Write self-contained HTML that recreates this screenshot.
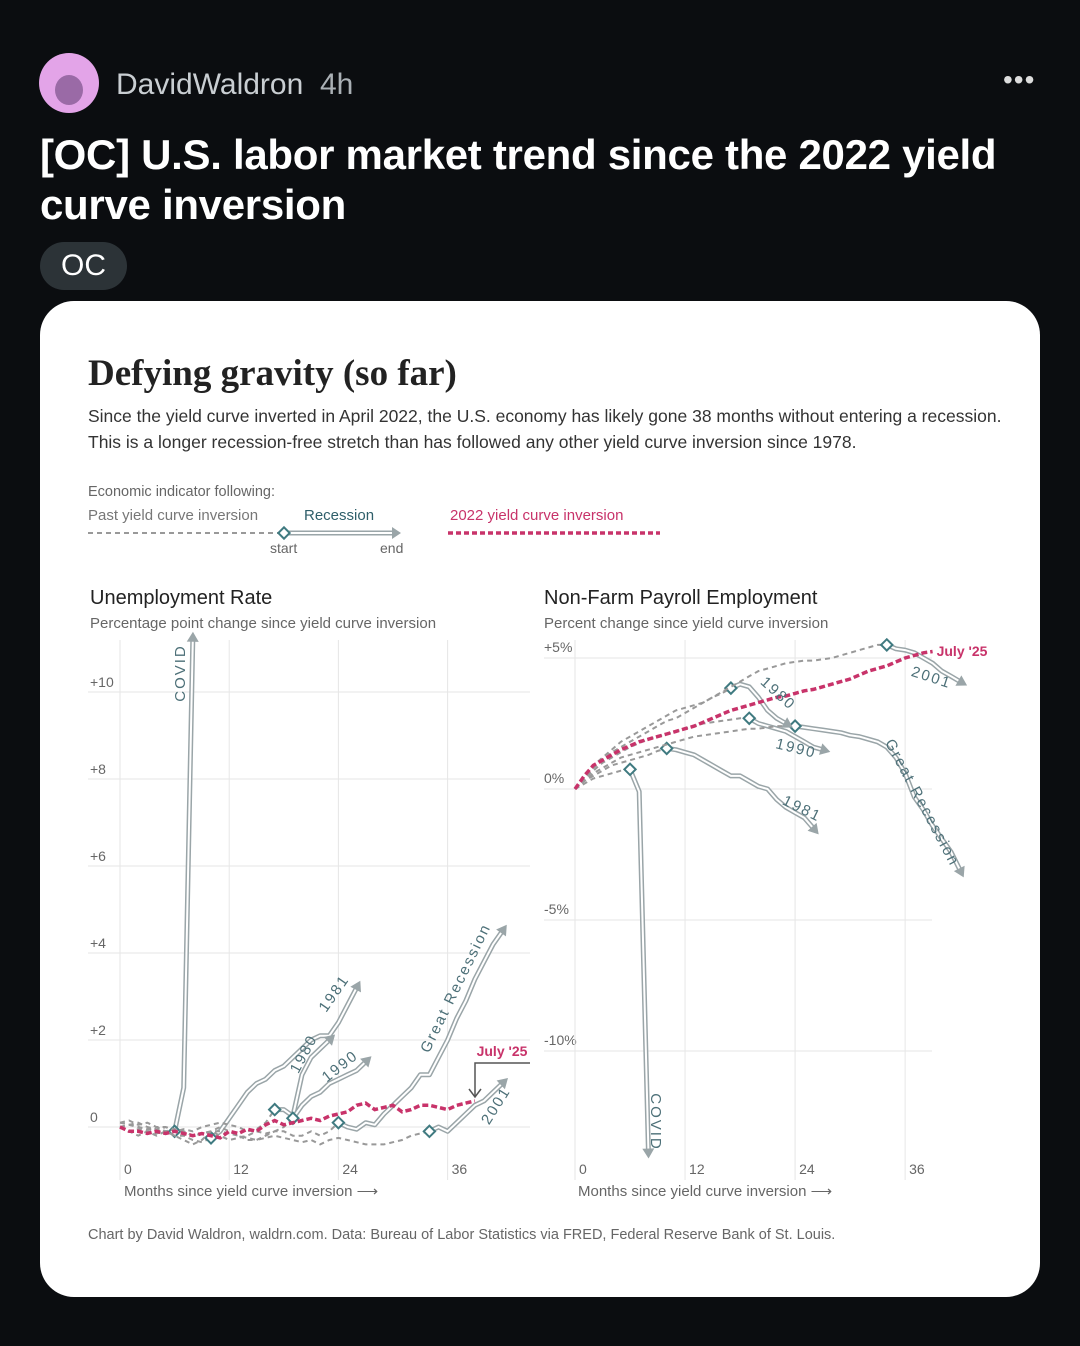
<!DOCTYPE html>
<html><head><meta charset="utf-8">
<style>
body{margin:0;width:1080px;height:1346px;background:#0b0d10;position:relative;overflow:hidden;font-family:"Liberation Sans",sans-serif;}
.a{position:absolute;white-space:nowrap;}
.card{position:absolute;left:40px;top:301px;width:1000px;height:996px;background:#fff;border-radius:34px;}
.g{color:#666;}
</style></head><body>
<div class="a" style="left:39px;top:53px;width:60px;height:60px;border-radius:50%;background:#e3a4e8;"><div style="position:absolute;left:16px;top:22px;width:28px;height:30px;border-radius:50%;background:#9a6aa6;"></div></div>
<div class="a" style="left:116px;top:68px;font-size:30px;color:#c9ced2;">DavidWaldron&nbsp; <span style="color:#aab0b5">4h</span></div>
<div class="a" style="left:1003px;top:64px;font-size:28px;color:#ddd;letter-spacing:1px;">•••</div>
<div class="a" style="left:40px;top:130px;font-size:42px;letter-spacing:-0.3px;line-height:50px;color:#fff;font-weight:bold;white-space:normal;width:1010px;">[OC] U.S. labor market trend since the 2022 yield curve inversion</div>
<div class="a" style="left:40px;top:242px;width:87px;height:48px;border-radius:24px;background:#2c3337;color:#fff;font-size:30px;line-height:48px;text-align:center;">OC</div>
<div class="card"></div>
<div class="a" style="left:88px;top:352px;font-family:'Liberation Serif',serif;font-weight:bold;font-size:37px;color:#222;">Defying gravity (so far)</div>
<div class="a" style="left:88px;top:403px;font-size:17.5px;line-height:26px;color:#333;">Since the yield curve inverted in April 2022, the U.S. economy has likely gone 38 months without entering a recession.<br>This is a longer recession-free stretch than has followed any other yield curve inversion since 1978.</div>
<div class="a g" style="left:88px;top:484px;font-size:14.5px;">Economic indicator following:</div>
<div class="a" style="left:88px;top:507px;font-size:15px;color:#777;">Past yield curve inversion</div>
<div class="a" style="left:304px;top:507px;font-size:15px;color:#2f5f6a;">Recession</div>
<div class="a" style="left:450px;top:507px;font-size:15px;color:#c8336a;">2022 yield curve inversion</div>
<div class="a g" style="left:270px;top:540px;font-size:14px;">start</div>
<div class="a g" style="left:380px;top:540px;font-size:14px;">end</div>
<div class="a" style="left:90px;top:587px;font-size:20px;color:#222;">Unemployment Rate</div>
<div class="a g" style="left:90px;top:615px;font-size:15px;">Percentage point change since yield curve inversion</div>
<div class="a" style="left:544px;top:587px;font-size:20px;color:#222;">Non-Farm Payroll Employment</div>
<div class="a g" style="left:544px;top:615px;font-size:15px;">Percent change since yield curve inversion</div>
<div class="a g" style="left:124px;top:1182px;font-size:15px;">Months since yield curve inversion ⟶</div>
<div class="a g" style="left:578px;top:1182px;font-size:15px;">Months since yield curve inversion ⟶</div>
<div class="a g" style="left:88px;top:1227px;font-size:14.5px;">Chart by David Waldron, waldrn.com. Data: Bureau of Labor Statistics via FRED, Federal Reserve Bank of St. Louis.</div>

<svg id="sv" class="a" style="left:0;top:0" width="1080" height="1346">
<line x1="88" y1="533" x2="280" y2="533" stroke="#999" stroke-width="2" stroke-dasharray="5,4"/>
<line x1="288" y1="533" x2="392" y2="533" stroke="#9aa5a8" stroke-width="5"/>
<line x1="288" y1="533" x2="392" y2="533" stroke="#fff" stroke-width="2"/>
<polygon points="392,527 401,533 392,539" fill="#9aa5a8"/>
<rect x="280" y="529" width="8" height="8" transform="rotate(45 284 533)" fill="#fff" stroke="#3f7a80" stroke-width="2"/>
<line x1="448" y1="533" x2="660" y2="533" stroke="#c8336a" stroke-width="3.5" stroke-dasharray="5,3"/>
</svg>
<script>
const leftYTicks=[0,2,4,6,8,10];
const leftYLabels=["0","+2","+4","+6","+8","+10"];
const xTicks=[0,12,24,36];
const L_covid_pre=[0.1,0.05,0.1,0,-0.05,-0.1,-0.1];
const L_covid_post=[-0.1,0.9,11.2];
const L_1981_pre=[0,-0.1,-0.05,-0.1,-0.15,-0.1,-0.2,-0.2,-0.3,-0.35,-0.25];
const L_1981_post=[-0.25,-0.1,0.2,0.5,0.8,1.0,1.1,1.3,1.4,1.6,1.8,2.0,2.1,2.1,2.4,2.8,3.2];
const L_1980_pre=[0.1,0.15,0.05,0.1,0,0,-0.1,-0.05,-0.1,0,0.05,0.1,0.05,0,-0.1,-0.05,0.1,0.4];
const L_1980_post=[0.4,0.4,0.25,1.2,1.6,1.8,2.0];
const L_1990_pre=[0,0.05,0,-0.05,-0.1,0,-0.05,-0.1,-0.2,-0.15,-0.1,-0.2,-0.3,-0.25,-0.2,-0.1,-0.15,-0.1,0,0.2];
const L_1990_post=[0.2,0.5,0.7,0.8,1.0,1.1,1.2,1.3,1.5];
const L_gr_pre=[0,-0.1,-0.2,-0.1,-0.2,-0.1,-0.2,-0.3,-0.4,-0.3,-0.1,0,-0.1,-0.2,-0.3,-0.3,-0.2,-0.1,-0.1,-0.2,-0.2,-0.1,-0.2,-0.1,0.1];
const L_gr_post=[0.1,0,-0.05,0.1,0.05,0.3,0.5,0.7,0.9,1.2,1.2,1.6,2.0,2.5,2.9,3.4,3.8,4.2,4.5];
const L_2001_pre=[0,0.05,0,-0.05,0,-0.1,-0.05,-0.1,-0.2,-0.15,-0.1,-0.1,-0.15,-0.2,-0.25,-0.3,-0.25,-0.2,-0.25,-0.3,-0.35,-0.3,-0.4,-0.3,-0.25,-0.3,-0.35,-0.4,-0.4,-0.4,-0.35,-0.3,-0.2,-0.15,-0.1];
const L_2001_post=[-0.1,0,-0.1,0.1,0.3,0.5,0.6,0.8,1.0];
const L_2022=[0,-0.1,-0.1,-0.15,-0.1,-0.15,-0.1,-0.15,-0.2,-0.15,-0.2,-0.25,-0.1,-0.15,-0.05,-0.1,0.05,0.15,0.05,0.1,0.15,0.2,0.15,0.25,0.3,0.35,0.5,0.55,0.4,0.45,0.5,0.35,0.4,0.5,0.5,0.45,0.4,0.5,0.55,0.6];
const rightYTicks=[5,0,-5,-10];
const rightYLabels=["+5%","0%","-5%","-10%"];
const R_covid_pre=[0,0.2,0.4,0.5,0.6,0.7,0.75];
const R_covid_post=[0.75,-0.1,-13.8];
const R_1981_pre=[0,0.3,0.5,0.7,0.9,1.0,1.1,1.2,1.3,1.45,1.55];
const R_1981_post=[1.55,1.5,1.4,1.3,1.1,0.9,0.7,0.5,0.5,0.3,0.1,0,-0.4,-0.7,-0.9,-1.1,-1.5];
const R_1980_pre=[0,0.5,0.9,1.2,1.5,1.8,2.0,2.2,2.4,2.6,2.8,3.0,3.1,3.2,3.3,3.5,3.65,3.85];
const R_1980_post=[3.85,4.0,3.9,3.5,3.0,2.7,2.5];
const R_1990_pre=[0,0.4,0.7,1.0,1.2,1.4,1.6,1.75,1.9,2.0,2.1,2.2,2.3,2.4,2.5,2.55,2.6,2.65,2.7,2.7];
const R_1990_post=[2.7,2.5,2.4,2.3,2.2,2.0,1.8,1.6,1.5];
const R_gr_pre=[0,0.3,0.6,0.8,1.0,1.2,1.3,1.4,1.5,1.6,1.7,1.8,1.9,2.0,2.05,2.1,2.15,2.2,2.25,2.3,2.3,2.35,2.4,2.4,2.4];
const R_gr_post=[2.4,2.35,2.3,2.25,2.2,2.15,2.05,2.0,1.9,1.8,1.6,1.2,0.6,-0.3,-0.8,-1.4,-1.9,-2.4,-3.1];
const R_2001_pre=[0,0.4,0.8,1.1,1.4,1.6,1.8,2.0,2.2,2.4,2.6,2.7,2.9,3.1,3.3,3.5,3.7,3.9,4.1,4.3,4.5,4.6,4.7,4.8,4.85,4.9,4.9,4.95,5.0,5.1,5.2,5.3,5.4,5.5,5.5];
const R_2001_post=[5.5,5.35,5.3,5.2,5.0,4.8,4.5,4.3,4.1];
const R_2022=[0,0.5,0.9,1.1,1.3,1.5,1.65,1.8,1.9,2.0,2.1,2.2,2.3,2.4,2.55,2.7,2.85,3.0,3.1,3.2,3.3,3.4,3.5,3.55,3.65,3.75,3.8,3.9,4.0,4.1,4.2,4.35,4.5,4.6,4.7,4.85,5.0,5.1,5.2,5.25];

const NS="http://www.w3.org/2000/svg";
const sv=document.getElementById('sv');
function mk(tag,attrs,name){const e=document.createElementNS(NS,tag);for(const k in attrs)e.setAttribute(k,attrs[k]);


sv.appendChild(e);return e;}
const xL=m=>120+m*9.1, yL=v=>1127-v*43.5;
const xR=m=>575+m*9.17, yR=v=>789-v*26.2;
function pts(arr,start,xf,yf){return arr.map((v,i)=>xf(start+i).toFixed(1)+','+yf(v).toFixed(1)).join(' ');}

leftYTicks.forEach((t,i)=>{mk('line',{x1:88,x2:530,y1:yL(t),y2:yL(t),stroke:'#e6e6e6','stroke-width':1},'left-gridline');
 const tx=mk('text',{x:90,y:yL(t)-5,'font-size':14,fill:'#666','font-family':'Liberation Sans'},'left-y-tick');tx.textContent=leftYLabels[i];});
rightYTicks.forEach((t,i)=>{mk('line',{x1:544,x2:932,y1:yR(t),y2:yR(t),stroke:'#e6e6e6','stroke-width':1},'right-gridline');
 const tx=mk('text',{x:544,y:yR(t)-6,'font-size':14,fill:'#666','font-family':'Liberation Sans'},'right-y-tick');tx.textContent=rightYLabels[i];});
xTicks.forEach(t=>{mk('line',{x1:xL(t),x2:xL(t),y1:640,y2:1180,stroke:'#e6e6e6'},'left-x-gridline');
 const a=mk('text',{x:xL(t)+4,y:1174,'font-size':14,fill:'#666','font-family':'Liberation Sans'},'left-x-tick');a.textContent=t;
 mk('line',{x1:xR(t),x2:xR(t),y1:640,y2:1180,stroke:'#e6e6e6'},'right-x-gridline');
 const b=mk('text',{x:xR(t)+4,y:1174,'font-size':14,fill:'#666','font-family':'Liberation Sans'},'right-x-tick');b.textContent=t;});

function series(pre,post,xf,yf,name){
 const m0=pre.length-1;
 mk('polyline',{points:pts(pre,0,xf,yf),fill:'none',stroke:'#999','stroke-width':2,'stroke-dasharray':'5,4'},name+'-pre');
 mk('polyline',{points:pts(post,m0,xf,yf),fill:'none',stroke:'#9aa5a8','stroke-width':5,'stroke-linejoin':'round'},name+'-recession');
 mk('polyline',{points:pts(post,m0,xf,yf),fill:'none',stroke:'#fff','stroke-width':2,'stroke-linejoin':'round'},name+'-recession-core');
 const n=post.length-1, x2=xf(m0+n), y2=yf(post[n]), x1=xf(m0+n-1), y1=yf(post[n-1]);
 const ang=Math.atan2(y2-y1,x2-x1)*180/Math.PI;
 mk('polygon',{points:`${x2-2},${y2-6} ${x2+8},${y2} ${x2-2},${y2+6}`,fill:'#9aa5a8',transform:`rotate(${ang} ${x2} ${y2})`},name+'-arrow');
 const dx=xf(m0), dy=yf(pre[m0]);
 mk('rect',{x:dx-4,y:dy-4,width:8,height:8,fill:'#fff',stroke:'#3f7a80','stroke-width':2,transform:`rotate(45 ${dx} ${dy})`},name+'-start-marker');
}
series(L_covid_pre,L_covid_post,xL,yL,'left-covid');
series(L_1981_pre,L_1981_post,xL,yL,'left-1981');
series(L_1980_pre,L_1980_post,xL,yL,'left-1980');
series(L_1990_pre,L_1990_post,xL,yL,'left-1990');
series(L_gr_pre,L_gr_post,xL,yL,'left-great-recession');
series(L_2001_pre,L_2001_post,xL,yL,'left-2001');
mk('polyline',{points:pts(L_2022,0,xL,yL),fill:'none',stroke:'#c8336a','stroke-width':3.5,'stroke-dasharray':'6,3'},'left-2022-line');
series(R_covid_pre,R_covid_post,xR,yR,'right-covid');
series(R_1981_pre,R_1981_post,xR,yR,'right-1981');
series(R_1990_pre,R_1990_post,xR,yR,'right-1990');
series(R_gr_pre,R_gr_post,xR,yR,'right-great-recession');
series(R_1980_pre,R_1980_post,xR,yR,'right-1980');
series(R_2001_pre,R_2001_post,xR,yR,'right-2001');
mk('polyline',{points:pts(R_2022,0,xR,yR),fill:'none',stroke:'#c8336a','stroke-width':3.5,'stroke-dasharray':'6,3'},'right-2022-line');

function lab(txt,x,y,rot,name,col,extra){const t=mk('text',Object.assign({x:x,y:y,'font-size':15,fill:col||'#4d7078','font-family':'Liberation Sans','letter-spacing':2,'text-anchor':'middle',transform:`rotate(${rot} ${x} ${y})`},extra||{}),name);t.textContent=txt;}
lab('COVID',185,673,-90,'left-covid-label');
lab('1981',338,996,-55,'left-1981-label');
lab('1980',308,1056,-62,'left-1980-label');
lab('1990',343,1070,-38,'left-1990-label');
lab('Great Recession',460,990,-64,'left-great-recession-label');
lab('2001',500,1108,-58,'left-2001-label');
lab("July '25",502,1056,0,'left-july-25-label','#c8336a',{'font-weight':'bold','letter-spacing':0,'font-size':14});
mk('polyline',{points:'530,1063 475,1063 475,1096',fill:'none',stroke:'#555','stroke-width':1.5},'left-july-callout');
mk('polyline',{points:'469,1089 475,1097 481,1089',fill:'none',stroke:'#555','stroke-width':1.5},'left-july-callout-arrow');
lab('COVID',651,1122,90,'right-covid-label');
lab('1980',775,697,42,'right-1980-label');
lab('1990',795,753,14,'right-1990-label');
lab('1981',800,813,26,'right-1981-label');
lab('Great Recession',918,805,62,'right-great-recession-label');
lab('2001',930,682,18,'right-2001-label');
lab("July '25",962,656,0,'right-july-25-label','#c8336a',{'font-weight':'bold','letter-spacing':0,'font-size':14});
</script>
</body></html>
